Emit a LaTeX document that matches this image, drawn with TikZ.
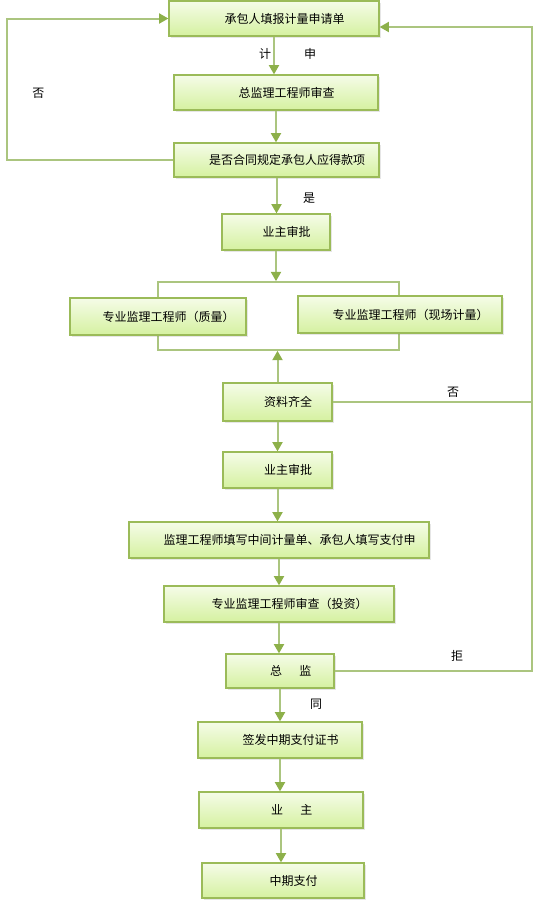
\documentclass[tikz,border=0pt]{standalone}
\usepackage{fontspec}
\setmainfont{Noto Sans CJK SC}
\usetikzlibrary{arrows.meta, shadows, calc}
\definecolor{boxline}{HTML}{9BBB59}
\definecolor{boxtop}{HTML}{F5FCE8}
\definecolor{boxbottom}{HTML}{D5F1A0}
\definecolor{flowline}{HTML}{ABC57F}
\definecolor{tipgreen}{HTML}{8DB04A}
\newcommand{\lpad}{\hspace*{16pt}}
\tikzset{
  stage/.style={
    rectangle, draw=boxline, line width=0.9pt, top color=boxtop, bottom color=boxbottom,
    minimum height=27pt, inner sep=0pt, text centered, font=\fontsize{9}{11}\selectfont,
    drop shadow={shadow xshift=0.3ex,shadow yshift=-0.3ex,opacity=0.2}
  },
  flow/.style={
    -{Triangle[width=7.5pt,length=7pt,color=tipgreen]}, line width=1.5pt, color=flowline
  },
  edgelabel/.style={font=\fontsize{9}{11}\selectfont, inner sep=0pt}
}

\begin{document}
\begin{tikzpicture}[
  x=0.75pt, y=-0.75pt,
  frame/.style={rectangle, draw=flowline, line width=1.2pt, inner sep=0pt}
]
\useasboundingbox (0,0) rectangle (534,901);
% frame round the two checks
\node[frame, minimum width=180.75pt, minimum height=51pt] (grp) at (278.5,316) {};
\node[stage, minimum width=157.5pt, minimum height=26.25pt] (apply) at (274,18.5) {\lpad 承包人填报计量申请单};
\node[stage, minimum width=153pt, minimum height=26.25pt] (chief) at (276,92.5) {\lpad 总监理工程师审查};
\node[stage, minimum width=153.75pt, minimum height=25.5pt] (due) at (276.5,160) {\lpad 是否合同规定承包人应得款项};
\node[stage, minimum width=81pt] (owner1) at (276,232) {\lpad 业主审批};
\node[stage, minimum width=132pt, minimum height=27.75pt] (quality) at (158,316.5) {\lpad 专业监理工程师（质量）};
\node[stage, minimum width=153pt, minimum height=27.75pt] (site) at (400,314.5) {\lpad 专业监理工程师（现场计量）};
\node[stage, minimum width=81.75pt, minimum height=28.5pt] (docs) at (277.5,402) {\lpad 资料齐全};
\node[stage, minimum width=81.75pt] (owner2) at (277.5,470) {\lpad 业主审批};
\node[stage, minimum width=225pt] (fill) at (279,540) {\lpad 监理工程师填写中间计量单、承包人填写支付申};
\node[stage, minimum width=172.5pt] (invest) at (279,604) {\lpad 专业监理工程师审查（投资）};
\node[stage, minimum width=81pt, minimum height=25.5pt] (chief2) at (280,671) {\lpad 总\hspace{13pt}监};
\node[stage, minimum width=123pt] (cert) at (280,740) {\lpad 签发中期支付证书};
\node[stage, minimum width=123pt] (owner3) at (281,810) {\lpad 业\hspace{13pt}主};
\node[stage, minimum width=121.5pt, minimum height=26.25pt] (pay) at (283,880.5) {\lpad 中期支付};

\coordinate (lft) at (7,18.5);
\coordinate (rgt) at (532,27);

\draw[flow] (apply.south) -- (apply.south |- chief.north);
\draw[flow] (chief.south) -- (chief.south |- due.north);
\draw[flow] (due.south) -- (due.south |- owner1.north);
\draw[flow] (owner1.south) -- (owner1.south |- grp.north);
\draw[flow] (docs.north) -- (docs.north |- grp.south);
\draw[flow] (docs.south) -- (docs.south |- owner2.north);
\draw[flow] (owner2.south) -- (owner2.south |- fill.north);
\draw[flow] (fill.south) -- (fill.south |- invest.north);
\draw[flow] (invest.south) -- (invest.south |- chief2.north);
\draw[flow] (chief2.south) -- (chief2.south |- cert.north);
\draw[flow] (cert.south) -- (cert.south |- owner3.north);
\draw[flow] (owner3.south) -- (owner3.south |- pay.north);
% loops back to the start
\draw[flow] (due.west) -| (lft) -- (apply.west);
\draw[flow] (chief2.east) -| (rgt) -- (apply.east |- rgt);
\draw[flow, -] (docs.east) -- (docs.east -| rgt);

\node[edgelabel] (l1) at (265,54) {计};
\node[edgelabel] (l2) at (310,54) {申};
\node[edgelabel] (l3) at (38.5,93) {否};
\node[edgelabel] (l4) at (309,198) {是};
\node[edgelabel] (l5) at (453,392) {否};
\node[edgelabel] (l6) at (457,656) {拒};
\node[edgelabel] (l7) at (316,704) {同};
\end{tikzpicture}
\end{document}
